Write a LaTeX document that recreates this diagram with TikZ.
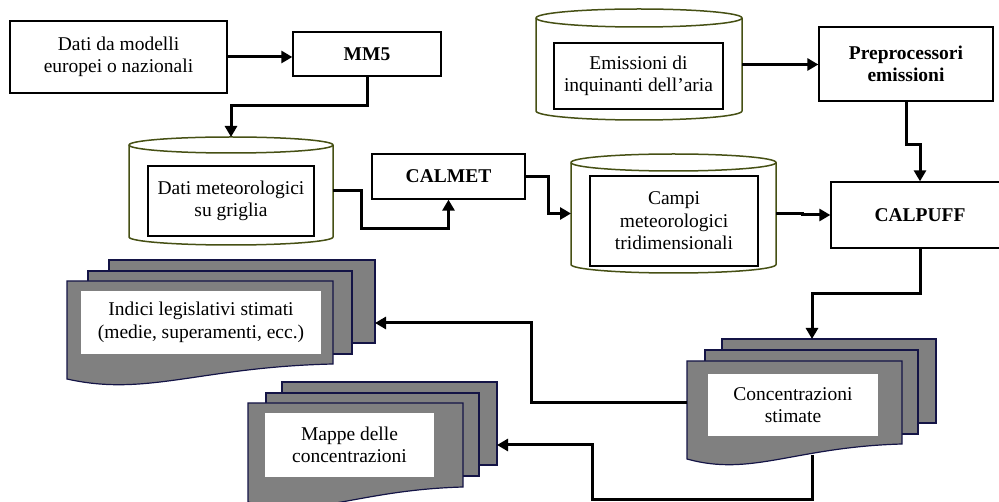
\documentclass[tikz,border=0pt]{standalone}
\usepackage{fontspec}
\setmainfont{Liberation Serif}
\usetikzlibrary{arrows.meta,calc}
\definecolor{cylcol}{RGB}{70,80,20}
\definecolor{pagegray}{RGB}{128,128,128}
\definecolor{pageline}{RGB}{20,20,70}
\tikzset{
  txt/.style={font=\fontsize{19.5}{22.5}\selectfont, align=center},
  box/.style={txt, draw, line width=1.3pt, fill=white, inner sep=0pt},
  bbox/.style={box, font=\fontsize{19.5}{22.5}\selectfont\bfseries},
  inbox/.style={txt, draw, line width=1.3pt, fill=white, inner sep=0pt},
  wbox/.style={txt, fill=white, inner sep=0pt},
  holder/.style={inner sep=0pt, outer sep=0pt},
  cylline/.style={draw=cylcol, line width=1.5pt, fill=white},
  pagebox/.style={draw=pageline, fill=pagegray, line width=1.2pt},
  conn/.style={line width=3pt, -{Triangle[length=11pt,width=12pt]}}
}
\begin{document}
\begin{tikzpicture}[x=1pt,y=-1pt]
\useasboundingbox (0,0) rectangle (999,502);
\clip (0,0) rectangle (999,502);

% plain boxes
\node[box, minimum width=217pt, minimum height=72pt] (dati) at (118.5,57) {Dati da modelli\\europei o nazionali};
\node[bbox, minimum width=148pt, minimum height=44pt] (mm5) at (367,54) {MM5};
\node[bbox, minimum width=153pt, minimum height=45pt] (calmet) at (448.5,176.5) {CALMET};
\node[bbox, minimum width=174pt, minimum height=74pt] (prepro) at (906,64) {Preprocessori\\emissioni};
\node[bbox, minimum width=178pt, minimum height=66pt] (calpuff) at (920,215) {CALPUFF};

% cylinder 1
\node[holder, minimum width=204pt, minimum height=108pt] (cyl1) at (231,191) {};
\draw[cylline] (129,145) -- (129,237) arc[start angle=180,end angle=360,x radius=102pt,y radius=8pt]
  -- (333,145) arc[start angle=0,end angle=180,x radius=102pt,y radius=8pt] -- cycle;
\draw[draw=cylcol, line width=1.5pt] (129,145) arc[start angle=180,end angle=360,x radius=102pt,y radius=8pt];
\node[inbox, minimum width=166pt, minimum height=70pt] (cyl1t) at (231,201) {Dati meteorologici\\su griglia};

% cylinder 2
\node[holder, minimum width=205pt, minimum height=119pt] (cyl2) at (673.5,213.5) {};
\draw[cylline] (571,162.5) -- (571,264.5) arc[start angle=180,end angle=360,x radius=102.5pt,y radius=8.5pt]
  -- (776,162.5) arc[start angle=0,end angle=180,x radius=102.5pt,y radius=8.5pt] -- cycle;
\draw[draw=cylcol, line width=1.5pt] (571,162.5) arc[start angle=180,end angle=360,x radius=102.5pt,y radius=8.5pt];
\node[inbox, minimum width=168pt, minimum height=90pt] (cyl2t) at (674,221) {Campi\\meteorologici\\tridimensionali};

% cylinder 3
\node[holder, minimum width=206pt, minimum height=111pt] (cyl3) at (639,64.5) {};
\draw[cylline] (536,18) -- (536,111) arc[start angle=180,end angle=360,x radius=103pt,y radius=9pt]
  -- (742,18) arc[start angle=0,end angle=180,x radius=103pt,y radius=9pt] -- cycle;
\draw[draw=cylcol, line width=1.5pt] (536,18) arc[start angle=180,end angle=360,x radius=103pt,y radius=9pt];
\node[inbox, minimum width=169pt, minimum height=66pt] (cyl3t) at (638.5,76) {Emissioni di\\inquinanti dell’aria};

% Concentrazioni stack
\node[holder, minimum width=214pt, minimum height=84pt] (concback) at (829,381) {};
\draw[pagebox] (722,339) rectangle (936,423);
\draw[pagebox] (705,350) rectangle (918,434);
\node[holder, minimum width=215pt, minimum height=83pt] (concfront) at (794.5,402.5) {};
\draw[pagebox] (687,361) -- (902,361) -- (902,444) .. controls (794.5,447) and (751.5,477) .. (687,459) -- cycle;
\node[wbox, minimum width=170pt, minimum height=62pt] (conct) at (793,405) {Concentrazioni\\stimate};
\coordinate (concbot) at (812,455);

% Indici stack
\node[holder, minimum width=266pt, minimum height=83pt] (indiciback) at (242,301.5) {};
\draw[pagebox] (109,260) rectangle (375,343);
\draw[pagebox] (88,271) rectangle (352,354);
\draw[pagebox] (67,281) -- (333,281) -- (333,364) .. controls (200,367) and (146.8,397) .. (67,379) -- cycle;
\node[wbox, minimum width=240pt, minimum height=63pt] (indicit) at (201,322.5) {Indici legislativi stimati\\(medie, superamenti, ecc.)};

% Mappe stack
\node[holder, minimum width=215pt, minimum height=83pt] (mappeback) at (389.5,423.5) {};
\draw[pagebox] (282,382) rectangle (497,465);
\draw[pagebox] (266,393) rectangle (479,476);
\draw[pagebox] (248,403) -- (463,403) -- (463,487) .. controls (355.5,490) and (312.5,520) .. (248,502) -- cycle;
\node[wbox, minimum width=169pt, minimum height=64pt] (mappet) at (349.5,445) {Mappe delle\\concentrazioni};

% connectors
\draw[conn] (dati.east) -- (dati.east -| mm5.west);
\draw[conn] (mm5.south) -- ++(0,29) -| (cyl1.north);
\draw[conn] (cyl1.east) -- ++(28,0) -- ++(0,38) -| (calmet.south);
\draw[conn] (calmet.east) -- ++(23,0) |- (cyl2.west);
\draw[conn] (cyl2.east) -- ++(26,0) |- (calpuff.west);
\draw[conn] (cyl3.east) -- (cyl3.east -| prepro.west);
\draw[conn] (prepro.south) -- ++(0,43) -| (calpuff.north);
\draw[conn] (calpuff.south) -- ++(0,45) -| ($(concback.north)+(-17,0)$);
\draw[conn] (concfront.west) -- ++(-156,0) |- ($(indiciback.east)+(0,21.5)$);
\draw[conn] (concbot) |- (592,499) |- ($(mappeback.east)+(0,21.5)$);
\end{tikzpicture}
\end{document}
